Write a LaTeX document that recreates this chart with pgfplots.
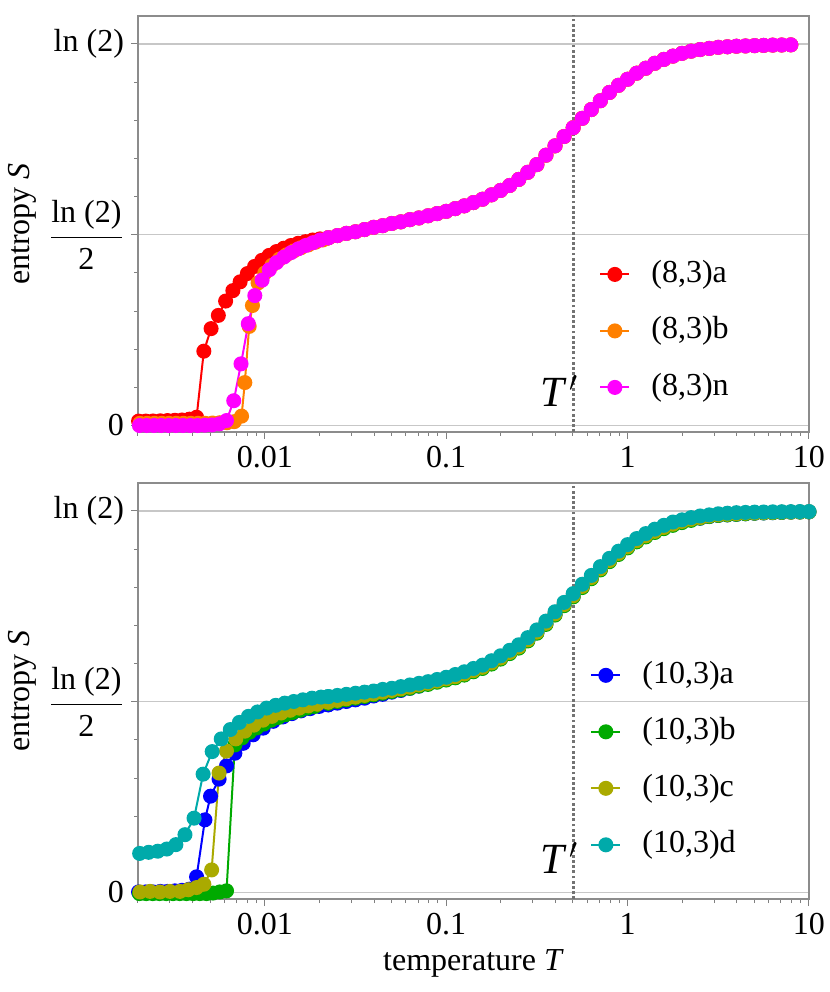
\documentclass[border=0pt]{standalone}
\usepackage{fontspec}
\setmainfont{Liberation Serif}
\usepackage{pgfplots}
\pgfplotsset{compat=1.18}
\usepackage{pgfplotstable}

\definecolor{cA}{rgb}{1,0,0}
\definecolor{cB}{rgb}{1,0.5,0}
\definecolor{cN}{rgb}{1,0,1}
\definecolor{dA}{rgb}{0,0,1}
\definecolor{dB}{rgb}{0,0.667,0}
\definecolor{dC}{rgb}{0.667,0.667,0}
\definecolor{dD}{rgb}{0,0.667,0.667}

\newcommand{\fs}{\fontsize{16}{19}\selectfont}
\newcommand{\Tprime}{\textit{T}\kern1.2pt$^{\prime}$}

\pgfplotstableread{
T S
0.02239 0.341
0.02512 0.345
0.02818 0.349
0.03162 0.352
0.03548 0.356
0.03981 0.360
0.04467 0.363
0.05012 0.367
0.05623 0.370
0.06310 0.374
0.07079 0.377
0.07943 0.381
0.08913 0.385
0.1 0.389
0.1122 0.394
0.1259 0.399
0.1413 0.405
0.1585 0.411
0.1778 0.419
0.1995 0.427
0.2239 0.436
0.2512 0.447
0.2818 0.460
0.3162 0.474
0.3548 0.491
0.3981 0.508
0.4467 0.525
0.5012 0.541
0.5623 0.558
0.6310 0.574
0.7079 0.590
0.7943 0.605
0.8913 0.618
1 0.629
1.122 0.640
1.259 0.649
1.413 0.658
1.585 0.665
1.778 0.671
1.995 0.676
2.239 0.680
2.512 0.683
2.818 0.685
3.162 0.687
3.548 0.688
3.981 0.689
4.467 0.6895
5.012 0.690
5.623 0.6905
6.310 0.691
7.079 0.6912
7.943 0.6915
}\upperhigh

\pgfplotstableread{
T a b c d
0.02239 0.341 0.344 0.346 0.356
0.02512 0.344 0.347 0.349 0.358
0.02818 0.347 0.350 0.352 0.360
0.03162 0.350 0.353 0.355 0.362
0.03548 0.353 0.356 0.358 0.364
0.03981 0.357 0.359 0.361 0.366
0.04467 0.360 0.362 0.364 0.369
0.05012 0.364 0.365 0.367 0.371
0.05623 0.367 0.368 0.370 0.374
0.06310 0.371 0.371 0.373 0.377
0.07079 0.375 0.375 0.377 0.380
0.07943 0.379 0.378 0.380 0.383
0.08913 0.383 0.382 0.384 0.387
0.1 0.387 0.386 0.388 0.391
0.1122 0.391 0.390 0.392 0.396
0.1259 0.396 0.395 0.397 0.401
0.1413 0.402 0.401 0.403 0.407
0.1585 0.408 0.407 0.409 0.413
0.1778 0.416 0.415 0.417 0.421
0.1995 0.425 0.424 0.426 0.430
0.2239 0.435 0.434 0.436 0.440
0.2512 0.445 0.444 0.446 0.450
0.2818 0.458 0.457 0.459 0.463
0.3162 0.472 0.471 0.473 0.477
0.3548 0.488 0.487 0.489 0.493
0.3981 0.505 0.504 0.506 0.510
0.4467 0.522 0.521 0.523 0.527
0.5012 0.538 0.537 0.539 0.543
0.5623 0.555 0.554 0.556 0.560
0.6310 0.571 0.570 0.572 0.576
0.7079 0.587 0.586 0.588 0.592
0.7943 0.602 0.601 0.603 0.607
0.8913 0.615 0.614 0.616 0.620
1 0.627 0.626 0.628 0.632
1.122 0.638 0.637 0.639 0.643
1.259 0.647 0.646 0.648 0.652
1.413 0.655 0.654 0.656 0.660
1.585 0.662 0.661 0.663 0.667
1.778 0.668 0.667 0.669 0.673
1.995 0.673 0.672 0.674 0.677
2.239 0.677 0.676 0.678 0.681
2.512 0.680 0.680 0.681 0.684
2.818 0.683 0.683 0.684 0.686
3.162 0.685 0.685 0.686 0.688
3.548 0.686 0.686 0.687 0.689
3.981 0.687 0.687 0.688 0.690
4.467 0.688 0.688 0.689 0.6905
5.012 0.689 0.689 0.6895 0.691
5.623 0.6895 0.6895 0.690 0.6912
6.310 0.690 0.690 0.6905 0.6915
7.079 0.6905 0.6905 0.691 0.6917
7.943 0.691 0.691 0.691 0.6918
8.913 0.6912 0.6912 0.6912 0.692
10 0.6915 0.6915 0.6915 0.692
}\lowerhigh

\pgfplotsset{
  legend image code/.code={\draw[mark repeat=2,mark phase=2,#1] plot coordinates {(0pt,0pt) (7.25pt,0pt) (14.5pt,0pt)};},
  every axis plot/.append style={line width=1pt, mark=*, mark size=3.25pt},
}

\begin{document}
\begin{tikzpicture}
\useasboundingbox (-69pt,-46.5pt) rectangle (346pt,449.5pt);

\begin{axis}[
    scale only axis, width=335.5pt, height=208pt,
    at={(0pt,233.5pt)}, anchor=south west,
    xmode=log, xmin=0.002, xmax=10,
    ymin=-0.0118, ymax=0.7439,
    xtick={0.01,0.1,1,10}, xticklabels={0.01,0.1,1,10},
    minor xtick={0.002,0.003,0.004,0.005,0.006,0.007,0.008,0.009,0.02,0.03,0.04,0.05,0.06,0.07,0.08,0.09,0.2,0.3,0.4,0.5,0.6,0.7,0.8,0.9,2,3,4,5,6,7,8,9},
    ytick={0,0.346574,0.693147},
    yticklabels={0,$\displaystyle\frac{\mbox{ln (2)}}{\mbox{2}}$,ln (2)},
    minor ytick={0.0693147,0.1386294,0.2079442,0.2772589,0.4158883,0.4852030,0.5545177,0.6238325},
    ymajorgrids, major grid style={black!22, line width=0.7pt},
    tick align=outside, xtick pos=bottom, ytick pos=left,
    major tick length=3.5pt, minor tick length=2pt,
    tick style={black!50, line width=0.5pt},
    axis line style={black!45, line width=0.6pt},
    tick label style={font=\fs},
    ylabel={entropy \textit{S}},
    ylabel style={font=\fs, at={(axis description cs:-0.1729,0.5)}, anchor=center},
    legend cell align=left,
    legend style={draw=none, fill=none, font=\fs, at={(0.687,0.243)}, anchor=west, inner sep=0pt, column sep=10.5pt, row sep=12.25pt, nodes={inner sep=0pt, text height=12pt, text depth=4pt}}]
\addplot[cA] coordinates {(0.001675,0.008) (0.001837,0.008) (0.002014,0.008) (0.002208,0.008) (0.002421,0.0082) (0.002655,0.0085) (0.002911,0.009) (0.003192,0.0095) (0.003499,0.010) (0.003837,0.0115) (0.004207,0.015) (0.004613,0.135) (0.005058,0.176) (0.005546,0.200) (0.006081,0.226) (0.006668,0.245) (0.007311,0.261) (0.008017,0.276) (0.008790,0.289) (0.009638,0.300) (0.01057,0.309) (0.01159,0.316) (0.01271,0.322) (0.01393,0.327) (0.01528,0.331) (0.01675,0.334) (0.01837,0.337) (0.02014,0.339) (0.02239,0.341)};
\addlegendentry{(8,3)a}
\addplot[cA, forget plot] table[x=T,y=S] {\upperhigh};
\addplot[cB] coordinates {(0.001556,0.004) (0.001706,0.004) (0.001871,0.004) (0.002051,0.004) (0.002249,0.004) (0.002466,0.004) (0.002704,0.004) (0.002965,0.004) (0.003251,0.004) (0.003565,0.004) (0.003908,0.004) (0.004285,0.004) (0.004699,0.004) (0.005152,0.0045) (0.005649,0.005) (0.006194,0.005) (0.006792,0.007) (0.007447,0.017) (0.007762,0.078) (0.008204,0.180) (0.008551,0.218) (0.009183,0.259) (0.01,0.277) (0.01096,0.291) (0.01202,0.302) (0.01318,0.310) (0.01445,0.317) (0.01585,0.323) (0.01738,0.328) (0.01905,0.333) (0.02089,0.337) (0.02239,0.341)};
\addlegendentry{(8,3)b}
\addplot[cB, forget plot] table[x=T,y=S] {\upperhigh};
\addplot[cN] coordinates {(0.001545,0) (0.001694,0) (0.001858,0) (0.002037,0) (0.002234,0) (0.002449,0) (0.002685,0) (0.002944,0) (0.003228,0) (0.003540,0) (0.003882,0) (0.004256,0) (0.004667,0.0005) (0.005117,0.001) (0.005610,0.003) (0.006152,0.009) (0.006745,0.045) (0.007396,0.112) (0.008110,0.185) (0.008810,0.236) (0.009661,0.264) (0.01059,0.283) (0.01161,0.296) (0.01274,0.306) (0.01396,0.314) (0.01531,0.321) (0.01679,0.327) (0.01841,0.332) (0.02018,0.337) (0.02239,0.341)};
\addlegendentry{(8,3)n}
\addplot[cN, forget plot] table[x=T,y=S] {\upperhigh};
\addplot[forget plot, black!55, line width=1.3pt, dash pattern=on 1.4pt off 1.2pt, mark=none] coordinates {(0.505,-0.05) (0.505,0.8)};
\node[anchor=base east, inner sep=0pt, font=\fontsize{21.5}{25}\selectfont] at (axis cs:0.538,0.035) {\Tprime};
\end{axis}

\begin{axis}[
    scale only axis, width=335.5pt, height=208pt,
    at={(0pt,0pt)}, anchor=south west,
    xmode=log, xmin=0.002, xmax=10,
    ymin=-0.0118, ymax=0.7439,
    xtick={0.01,0.1,1,10}, xticklabels={0.01,0.1,1,10},
    minor xtick={0.002,0.003,0.004,0.005,0.006,0.007,0.008,0.009,0.02,0.03,0.04,0.05,0.06,0.07,0.08,0.09,0.2,0.3,0.4,0.5,0.6,0.7,0.8,0.9,2,3,4,5,6,7,8,9},
    ytick={0,0.346574,0.693147},
    yticklabels={0,$\displaystyle\frac{\mbox{ln (2)}}{\mbox{2}}$,ln (2)},
    minor ytick={0.0693147,0.1386294,0.2079442,0.2772589,0.4158883,0.4852030,0.5545177,0.6238325},
    ymajorgrids, major grid style={black!22, line width=0.7pt},
    tick align=outside, xtick pos=bottom, ytick pos=left,
    major tick length=3.5pt, minor tick length=2pt,
    tick style={black!50, line width=0.5pt},
    axis line style={black!45, line width=0.6pt},
    tick label style={font=\fs},
    ylabel={entropy \textit{S}},
    ylabel style={font=\fs, at={(axis description cs:-0.1729,0.5)}, anchor=center},
    xlabel={temperature \textit{T}},
    xlabel style={font=\fs, at={(axis description cs:0.5,-0.154)}, anchor=center},
    legend cell align=left,
    legend style={draw=none, fill=none, font=\fs, at={(0.6736,0.334)}, anchor=west, inner sep=0pt, column sep=10.5pt, row sep=12.25pt, nodes={inner sep=0pt, text height=12pt, text depth=4pt}}]
\addplot[dA] coordinates {(0.001675,0.001) (0.001837,0.001) (0.002014,0.001) (0.002208,0.001) (0.002421,0.001) (0.002655,0.002) (0.002911,0.002) (0.003192,0.003) (0.003499,0.004) (0.003837,0.006) (0.004207,0.0285) (0.004677,0.132) (0.005023,0.175) (0.005598,0.206) (0.006152,0.230) (0.006839,0.253) (0.007603,0.271) (0.008630,0.2865) (0.009795,0.2986) (0.01112,0.311) (0.01259,0.319) (0.01413,0.325) (0.01585,0.330) (0.01778,0.334) (0.01995,0.338) (0.02239,0.341)};
\addlegendentry{(10,3)a}
\addplot[dA, forget plot] table[x=T,y=a] {\lowerhigh};
\addplot[dB] coordinates {(0.001578,-0.002) (0.001718,-0.002) (0.001871,-0.002) (0.002037,-0.002) (0.002218,-0.002) (0.002415,-0.002) (0.002630,-0.002) (0.002864,-0.002) (0.003119,-0.002) (0.003396,-0.002) (0.003698,-0.002) (0.004027,-0.002) (0.004385,-0.002) (0.004775,-0.002) (0.005188,-0.001) (0.005649,0.001) (0.006152,0.003) (0.006839,0.268) (0.007499,0.281) (0.008222,0.291) (0.009016,0.299) (0.009886,0.306) (0.01084,0.313) (0.01189,0.318) (0.01303,0.323) (0.01429,0.327) (0.01567,0.331) (0.01718,0.335) (0.01884,0.338) (0.02239,0.344)};
\addlegendentry{(10,3)b}
\addplot[dB, forget plot] table[x=T,y=b] {\lowerhigh};
\addplot[dC] coordinates {(0.001592,0.001) (0.001807,0.001) (0.002051,0.001) (0.002328,0.002) (0.002642,0.001) (0.002999,0.002) (0.003404,0.002) (0.003784,0.005) (0.004207,0.009) (0.004613,0.015) (0.005093,0.041) (0.005598,0.217) (0.006152,0.257) (0.006918,0.279) (0.007762,0.293) (0.008710,0.304) (0.009772,0.313) (0.01096,0.320) (0.01230,0.326) (0.01380,0.331) (0.01549,0.335) (0.01738,0.339) (0.01950,0.342) (0.02239,0.346)};
\addlegendentry{(10,3)c}
\addplot[dC, forget plot] table[x=T,y=c] {\lowerhigh};
\addplot[dD] coordinates {(0.001622,0.069) (0.001820,0.070) (0.002042,0.071) (0.002291,0.073) (0.002570,0.075) (0.002884,0.079) (0.003236,0.087) (0.003631,0.105) (0.004074,0.135) (0.004571,0.215) (0.005129,0.256) (0.005754,0.279) (0.006457,0.296) (0.007244,0.309) (0.008128,0.320) (0.009120,0.328) (0.01023,0.335) (0.01148,0.340) (0.01288,0.344) (0.01445,0.347) (0.01622,0.350) (0.01820,0.353) (0.02042,0.355) (0.02239,0.356)};
\addlegendentry{(10,3)d}
\addplot[dD, forget plot] table[x=T,y=d] {\lowerhigh};
\addplot[forget plot, black!55, line width=1.3pt, dash pattern=on 1.4pt off 1.2pt, mark=none] coordinates {(0.505,-0.05) (0.505,0.8)};
\node[anchor=base east, inner sep=0pt, font=\fontsize{21.5}{25}\selectfont] at (axis cs:0.538,0.035) {\Tprime};
\end{axis}
\end{tikzpicture}
\end{document}
